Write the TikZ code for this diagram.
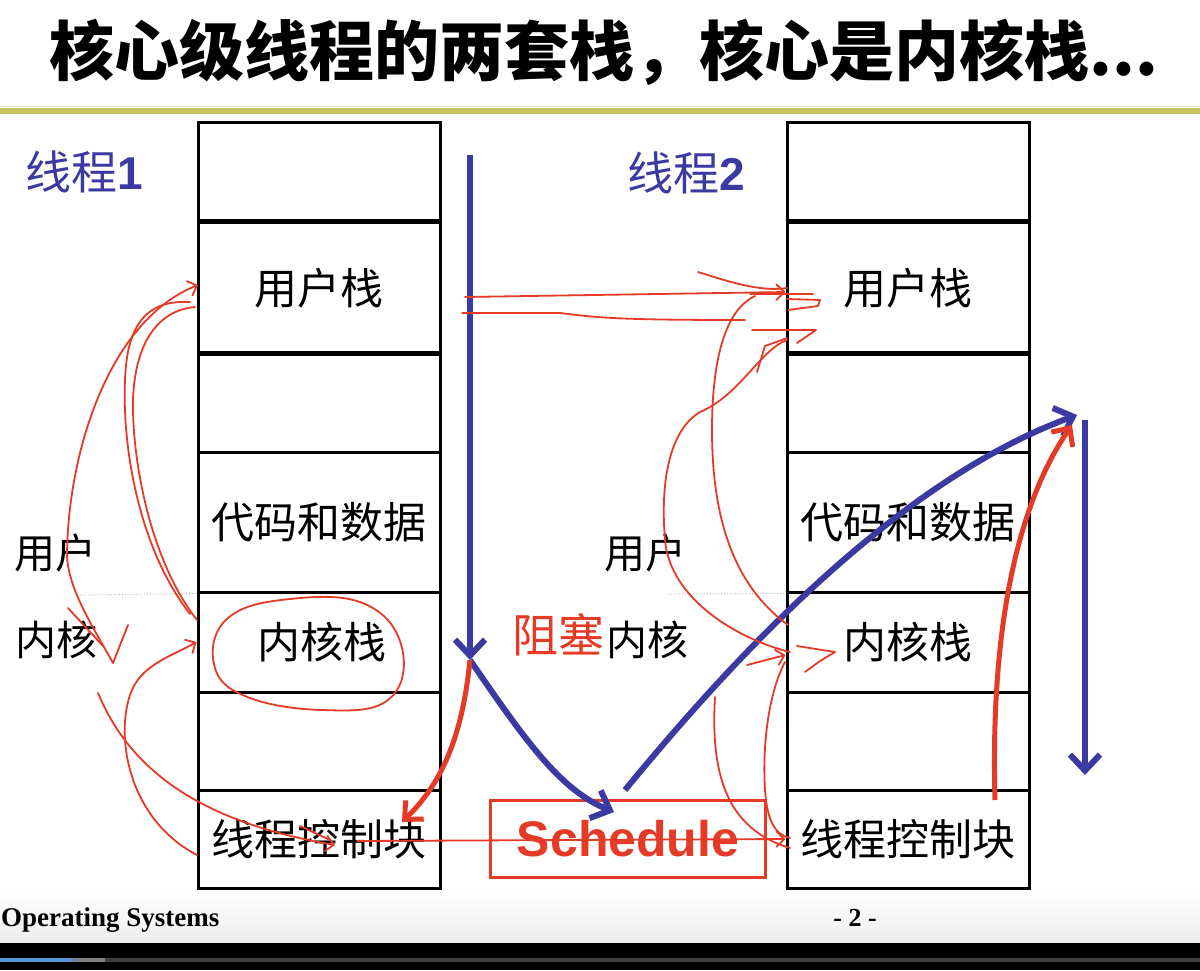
\documentclass[tikz,border=0pt]{standalone}
\usepackage{fontspec}
\setmainfont{Liberation Serif}
\newfontfamily\cjk{Noto Sans CJK SC}
\newfontfamily\arial{Liberation Sans}
\usetikzlibrary{arrows.meta}
\definecolor{tblue}{RGB}{58,58,162}
\definecolor{pred}{RGB}{228,58,38}
\definecolor{rule}{RGB}{198,196,96}
\begin{document}
\begin{tikzpicture}[x=1pt,y=-1pt,
  cell/.style={draw=black,line width=3pt,minimum width=242pt,inner sep=0pt,
    font=\fontsize{43}{43}\selectfont\cjk},
  side/.style={font=\fontsize{41}{41}\selectfont\cjk,inner sep=0pt},
  thr/.style={font=\fontsize{46}{46}\selectfont\cjk,text=tblue,inner sep=0pt},
  flow/.style={draw=tblue,line width=6pt,-{Straight Barb[length=16pt,width=30pt,line width=6pt]}},
  hot/.style={draw=pred,line width=5pt,-{Straight Barb[length=14pt,width=26pt,line width=5pt]}},
  scrib/.style={draw=pred,line width=1.8pt,line cap=round,line join=round},
  tip/.style={-{Straight Barb[length=8pt,width=16pt,line width=1.8pt]}},
  sep/.style={draw=gray!70,dotted,line width=0.8pt}]
\useasboundingbox (0,0) rectangle (1200,970);
\fill[white] (0,0) rectangle (1200,970);
% footer band and player bar
\shade[top color=white,bottom color=black!7] (0,890) rectangle (1200,943);
\fill[black] (0,943) rectangle (1200,970);
\fill[black!75] (0,958) rectangle (1200,962);
\fill[black!50] (0,958) rectangle (105,962);
\fill[cyan!60!blue!70] (0,958) rectangle (73,962);

% title and rule
\node[font=\fontsize{65}{65}\selectfont\cjk\bfseries,inner sep=0pt] (title) at (604,52) {核心级线程的两套栈，核心是内核栈...};
\draw[rule,line width=6pt] (0,111) -- (1200,111);
\draw[rule!40,line width=1pt] (0,106.5) -- (1200,106.5);

% thread 1 stack
\node[cell,minimum height=98pt]  (a1) at (319,171) {};
\node[cell,minimum height=132pt] (a2) at (319,288) {用户栈};
\node[cell,minimum height=100pt] (a3) at (319,402) {};
\node[cell,minimum height=140pt] (a4) at (319,522) {代码和数据};
\node[cell,minimum height=100pt] (a5) at (319,642) {\hspace*{6pt}内核栈};
\node[cell,minimum height=98pt]  (a6) at (319,741) {};
\node[cell,minimum height=98pt]  (a7) at (319,839) {线程控制块};
% thread 2 stack
\node[cell,minimum height=98pt]  (b1) at (908,171) {};
\node[cell,minimum height=132pt] (b2) at (908,288) {用户栈};
\node[cell,minimum height=100pt] (b3) at (908,402) {};
\node[cell,minimum height=140pt] (b4) at (908,522) {代码和数据};
\node[cell,minimum height=100pt] (b5) at (908,642) {内核栈};
\node[cell,minimum height=98pt]  (b6) at (908,741) {};
\node[cell,minimum height=98pt]  (b7) at (908,839) {线程控制块};

% thread names and user/kernel split
\node[thr,anchor=west] (t1) at (25,172) {线程\textbf{\arial 1}};
\node[thr,anchor=west] (t2) at (627,173) {线程\textbf{\arial 2}};
\node[side] (u1) at (55,553) {用户};
\node[side] (k1) at (57,640) {内核};
\node[side] (u2) at (645,553) {用户};
\node[side] (k2) at (647,640) {内核};
\node[side,text=pred,font=\fontsize{46}{46}\selectfont\cjk] (blk) at (558,635) {阻塞};
\draw[sep] (80,595) -- (a4.south west);
\draw[sep] (668,594) -- (b4.south west);

% scheduler
\node[draw=pred,line width=3pt,minimum width=275pt,minimum height=77pt,inner sep=0pt,
  text=pred,font=\fontsize{50}{50}\selectfont\arial\bfseries] (sch) at (628,839) {Schedule};

% footer text
\node[anchor=west,inner sep=0pt,font=\fontsize{27}{27}\selectfont\bfseries] (os) at (1,920) {Operating Systems};
\node[inner sep=0pt,font=\fontsize{26}{26}\selectfont\bfseries] (pg) at (855,918) {- 2 -};

% control flow of thread 1 into the scheduler and on to thread 2
\coordinate (d0) at (470,155);
\coordinate (d1) at (470,660);
\coordinate (s0) at (625,790);
\coordinate (s1) at (1077,415);
\coordinate (e0) at (1085,420);
\coordinate (e1) at (1085,775);
\draw[flow] (d0) -- (d1);
\draw[flow] (d1) .. controls (525,740) and (560,790) .. (614,812);
\draw[flow] (s0) .. controls (740,650) and (900,480) .. (s1);
\draw[flow] (e0) -- (e1);
\draw[hot] (d1) .. controls (462,740) and (440,785) .. (402,822);
\draw[hot] (995,800) .. controls (990,620) and (1020,500) .. (1072,425);

% hand annotations, thread 1
\draw[scrib,tip] (128,625) -- (113,663) .. controls (95,630) and (68,590) .. (67,555)
  .. controls (68,450) and (110,320) .. (198,285);
\draw[scrib] (190,614) .. controls (140,550) and (122,450) .. (125,380)
  .. controls (127,320) and (150,300) .. (190,302);
\draw[scrib] (197,620) .. controls (150,560) and (132,460) .. (133,400)
  .. controls (135,340) and (160,310) .. (195,307);
\draw[scrib] (68,608) -- (103,646);
\draw[scrib] plot[smooth cycle,tension=0.7] coordinates
  {(228,618) (290,599) (365,604) (402,648) (388,700) (322,710) (245,696) (214,664)};
\draw[scrib,tip] (197,855) .. controls (130,820) and (115,740) .. (130,695)
  .. controls (140,665) and (170,657) .. (a5.west);
\draw[scrib,tip] (98,693) .. controls (130,770) and (200,822) .. (335,845);
\draw[scrib] (300,826) -- (330,840);
\draw[scrib,tip] (357,841) -- (b7.west);

% hand annotations, thread 2
\draw[scrib,tip] (465,297) -- (b2.west |- 0,292);
\draw[scrib] (698,272) .. controls (730,282) and (760,292) .. (787,288);
\draw[scrib] (462,313) -- (560,313) .. controls (600,318) and (620,320) .. (745,320);
\draw[scrib] (750,294) -- (813,294);
\draw[scrib] (787,299) -- (820,300) -- (818,306) -- (788,310);
\draw[scrib] (752,330) -- (816,330) -- (797,343);
\draw[scrib] (757,372) -- (765,346) -- (787,338);
\draw[scrib] (755,296) .. controls (725,310) and (712,360) .. (712,430)
  .. controls (712,530) and (740,590) .. (788,625);
\draw[scrib] (787,340) .. controls (760,350) and (740,395) .. (700,412)
  .. controls (670,430) and (660,480) .. (665,540)
  .. controls (670,600) and (740,640) .. (790,652);
\draw[scrib] (797,646) -- (835,652) -- (820,661) -- (805,672);
\draw[scrib,tip] (747,665) -- (b5.west |- 0,655);
\draw[scrib] (715,697) .. controls (710,780) and (730,830) .. (790,848);
\draw[scrib] (785,662) .. controls (770,690) and (762,740) .. (765,790)
  .. controls (767,820) and (775,835) .. (790,838);
\end{tikzpicture}
\end{document}
